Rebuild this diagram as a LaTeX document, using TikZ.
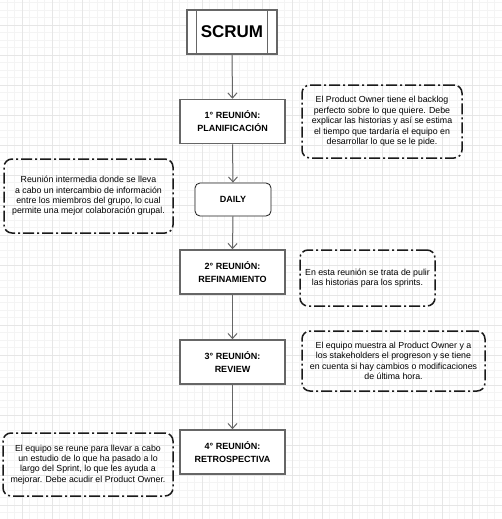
\documentclass[tikz,border=0pt]{standalone}
\usepackage{fontspec}
\setmainfont{Liberation Sans}
\usepackage{xcolor}
\usepackage{tikz}
\usetikzlibrary{arrows.meta}
\definecolor{edgex}{HTML}{666666}
\definecolor{gminx}{HTML}{F4F4F4}
\definecolor{gmajx}{HTML}{E6E6E6}
\definecolor{inkx}{HTML}{1A1A1A}
\tikzset{
  ar/.style={-{Straight Barb[length=5pt,width=9pt]},edgex,line width=1pt},
  box/.style={draw=edgex,line width=1.6pt,fill=white,align=center,font=\bfseries\fontsize{9}{13}\selectfont,minimum width=105pt,minimum height=44pt,inner sep=0pt},
  daybox/.style={draw=inkx,line width=0.8pt,rounded corners=5pt,fill=white,font=\bfseries\fontsize{9}{13}\selectfont,minimum width=76pt,minimum height=33pt,inner sep=0pt},
  note/.style={draw=inkx,line width=1.5pt,rounded corners=8pt,dash pattern=on 11pt off 3pt on 2pt off 3pt,align=center,font=\fontsize{8.8}{10.4}\selectfont,inner sep=0pt},
  gmin/.style={gminx,line width=0.7pt},
  gmaj/.style={gmajx,line width=0.8pt}
}
\begin{document}
\begin{tikzpicture}[x=1pt,y=-1pt]
\useasboundingbox (0,0) rectangle (502,519);
\fill[white] (0,0) rectangle (502,519);
% grid
\foreach \x in {7,14.5,...,502} \draw[gmin] (\x,0) -- (\x,519);
\foreach \y in {2.5,10,...,519} \draw[gmin] (0,\y) -- (502,\y);
\foreach \x in {22,52,...,502} \draw[gmaj] (\x,0) -- (\x,519);
\foreach \y in {25,55,...,519} \draw[gmaj] (0,\y) -- (502,\y);

\node[box,minimum width=90pt,font=\bfseries\fontsize{17}{20}\selectfont] (scrum) at (232,32) {SCRUM};
\draw[edgex,line width=1.2pt] ([xshift=10pt]scrum.north west) -- ([xshift=10pt]scrum.south west);
\draw[edgex,line width=1.2pt] ([xshift=-10pt]scrum.north east) -- ([xshift=-10pt]scrum.south east);

\node[box] (plan) at (232.5,121.5) {1° REUNIÓN:\\PLANIFICACIÓN};
\node[daybox] (daily) at (233,199.5) {DAILY};
\node[box] (refin) at (232.5,272) {2° REUNIÓN:\\REFINAMIENTO};
\node[box] (review) at (232.5,362) {3° REUNIÓN:\\REVIEW};
\node[box] (retro) at (232.5,452) {4° REUNIÓN:\\RETROSPECTIVA};

\draw[ar] (scrum.south) -- (plan.north);
\draw[ar] (plan.south) -- (daily.north);
\draw[ar] (daily.south) -- (refin.north);
\draw[ar] (refin.south) -- (review.north);
\draw[ar] (review.south) -- (retro.north);

\node[note,minimum width=160pt,minimum height=73pt] (nplan) at (382,121.5)
  {El Product Owner tiene el backlog\\perfecto sobre lo que quiere. Debe\\explicar las historias y así se estima\\el tiempo que tardaría el equipo en\\desarrollar lo que se le pide.};
\node[note,minimum width=169pt,minimum height=74pt] (ndaily) at (88.5,196)
  {Reunión intermedia donde se lleva\\a cabo un intercambio de información\\entre los miembros del grupo, lo cual\\permite una mejor colaboración grupal.};
\node[note,minimum width=135pt,minimum height=56pt] (nrefin) at (367.5,278)
  {En esta reunión se trata de pulir\\las historias para los sprints.};
\node[note,minimum width=183pt,minimum height=60pt] (nreview) at (393.5,361)
  {El equipo muestra al Product Owner y a\\los stakeholders el progreson y se tiene\\en cuenta si hay cambios o modificaciones\\de última hora.};
\node[note,minimum width=170pt,minimum height=63pt] (nretro) at (88,464.5)
  {El equipo se reune para llevar a cabo\\un estudio de lo que ha pasado a lo\\largo del Sprint, lo que les ayuda a\\mejorar. Debe acudir el Product Owner.};
\end{tikzpicture}
\end{document}
